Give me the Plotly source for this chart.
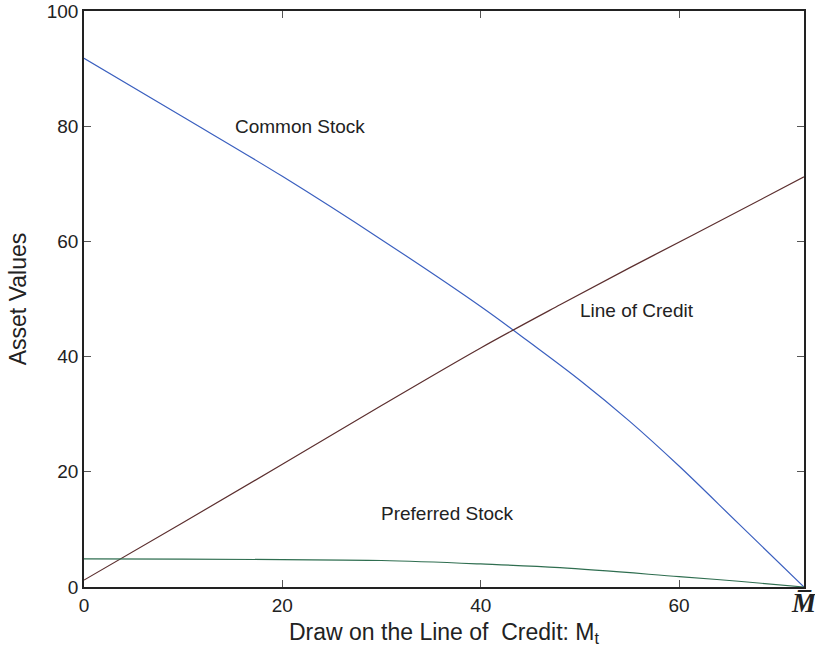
import plotly.graph_objects as go

M_BAR = 72.6

draw_x = [0, 10, 20, 30, 40, 45, 50, 55, 60, 66, M_BAR]
common_stock = [91.8, 81.6, 71.3, 60.3, 48.7, 42.4, 35.9, 28.8, 21.0, 11.0, 0.0]

loc_x = [0, 10, 20, 30, 40, 48, 55, 61.4, M_BAR]
line_of_credit = [1.2, 11.2, 21.3, 31.5, 41.5, 49.0, 55.4, 61.1, 71.2]

pref_x = [0, 10, 20, 30, 40, 48, 60, 66, M_BAR]
preferred_stock = [4.9, 4.85, 4.75, 4.6, 4.0, 3.35, 1.8, 1.0, 0.0]

x_tickvals = [0, 20, 40, 60, M_BAR]
x_ticktext = ["0", "20", "40", "60",
              "<span style='font-family:Liberation Serif;font-size:27px'><b><i>M\u0305</i></b></span>"]
y_tickvals = [0, 20, 40, 60, 80, 100]

labels = [
    ("Common Stock", 21.8, 80.0),
    ("Line of Credit", 55.8, 48.0),
    ("Preferred Stock", 36.6, 12.7),
]

fig = go.Figure()
fig.add_trace(go.Scatter(x=draw_x, y=common_stock, mode="lines", line_shape="spline",
                         line=dict(color="#3a5fbf", width=1.2), name="Common Stock"))
fig.add_trace(go.Scatter(x=loc_x, y=line_of_credit, mode="lines", line_shape="spline",
                         line=dict(color="#5c2f2f", width=1.2), name="Line of Credit"))
fig.add_trace(go.Scatter(x=pref_x, y=preferred_stock, mode="lines", line_shape="spline",
                         line=dict(color="#2f6e50", width=1.2), name="Preferred Stock"))

for txt, lx, ly in labels:
    fig.add_annotation(x=lx, y=ly, text=txt, showarrow=False,
                       font=dict(family="Liberation Sans", size=19, color="#222"))

fig.update_layout(
    width=815, height=652,
    margin=dict(l=84, r=11, t=11, b=65),
    paper_bgcolor="white", plot_bgcolor="white",
    showlegend=False,
    font=dict(family="Liberation Sans", size=19, color="#222"),
)
fig.update_xaxes(range=[0, M_BAR], tickvals=x_tickvals, ticktext=x_ticktext,
                 ticks="inside", ticklen=7, tickcolor="#555", tickwidth=1,
                 showline=True, linecolor="#222", linewidth=1.5, mirror="ticks",
                 showgrid=False, zeroline=False, automargin=False,
                 ticklabeloverflow="allow",
                 title=dict(text="Draw on the Line of  Credit: M<sub>t</sub>",
                            font=dict(size=23), standoff=7),
                 tickfont=dict(size=19))
fig.update_yaxes(range=[0, 100], tickvals=y_tickvals,
                 ticks="inside", ticklen=7, tickcolor="#555", tickwidth=1,
                 showline=True, linecolor="#222", linewidth=1.5, mirror="ticks",
                 showgrid=False, zeroline=False, automargin=False,
                 ticklabeloverflow="allow",
                 title=dict(text="Asset Values", font=dict(size=23), standoff=14),
                 tickfont=dict(size=19))

# remove the browser's default 8px body margin so the figure fills the window
fig.write_html("out.html", config={"displayModeBar": False},
               post_script="document.body.style.margin='0';")
